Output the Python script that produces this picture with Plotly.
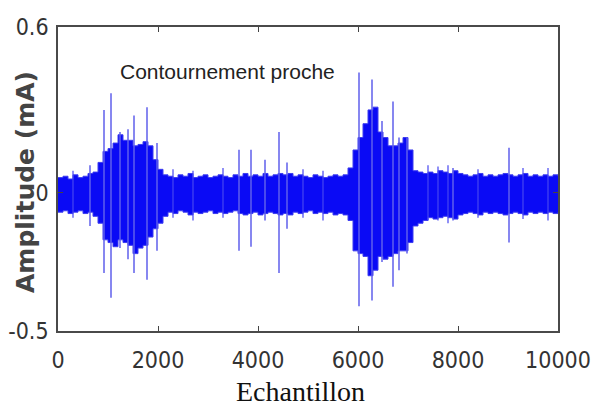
import plotly.graph_objects as go

# Sample index of each envelope point (every 100 samples)
env_samples = list(range(0, 10001, 100))

# Upper and lower edge of the dense signal band (mA)
env_upper = [
    0.055, 0.06, 0.05, 0.065, 0.055, 0.06, 0.07,
    0.075, 0.11, 0.15, 0.16, 0.18, 0.21, 0.19, 0.19, 0.17, 0.175, 0.185, 0.17, 0.12, 0.085, 0.065,
    0.06, 0.055, 0.065, 0.06, 0.07, 0.055, 0.06, 0.065, 0.055, 0.06, 0.065, 0.06, 0.055, 0.065,
    0.06, 0.07, 0.06, 0.065, 0.06, 0.07, 0.06, 0.065, 0.07, 0.065, 0.07, 0.06, 0.065, 0.06,
    0.055, 0.065, 0.06, 0.055, 0.06, 0.065, 0.06, 0.065,
    0.09, 0.155, 0.2, 0.25, 0.3, 0.31, 0.22, 0.2, 0.17, 0.17, 0.18, 0.2, 0.155, 0.08,
    0.075, 0.07, 0.075, 0.07, 0.08, 0.075, 0.07, 0.08, 0.07, 0.065, 0.06, 0.065, 0.07,
    0.06, 0.065, 0.06, 0.065, 0.07, 0.065, 0.06, 0.065, 0.07, 0.06, 0.065, 0.06, 0.065,
    0.06, 0.065, 0.06,
]
env_lower = [
    -0.07, -0.065, -0.075, -0.07, -0.065, -0.075, -0.07,
    -0.085, -0.11, -0.17, -0.18, -0.195, -0.17, -0.18, -0.19, -0.22, -0.2, -0.19, -0.16, -0.13, -0.11, -0.085,
    -0.07, -0.075, -0.065, -0.07, -0.08, -0.07, -0.075, -0.07, -0.065, -0.075, -0.07, -0.075,
    -0.07, -0.065, -0.075, -0.08, -0.075, -0.07, -0.08, -0.075, -0.07, -0.075, -0.08, -0.075,
    -0.08, -0.07, -0.075, -0.07, -0.065, -0.075, -0.07, -0.075, -0.07, -0.08, -0.075, -0.08,
    -0.1, -0.21, -0.22, -0.23, -0.3, -0.28, -0.23, -0.24, -0.23, -0.22, -0.21, -0.21, -0.18, -0.12,
    -0.11, -0.1, -0.09, -0.095, -0.09, -0.085, -0.09, -0.095, -0.08, -0.075, -0.07, -0.075, -0.08,
    -0.07, -0.075, -0.07, -0.075, -0.08, -0.075, -0.07, -0.075, -0.08, -0.07, -0.075, -0.07,
    -0.075, -0.07, -0.075, -0.07,
]

# Isolated spikes: sample index, peak and trough (mA)
spike_samples = [640, 920, 1060, 1240, 1400, 1520, 1780, 1980,
                 3620, 3860, 4140, 4420, 4580,
                 6020, 6280, 6480, 6700, 6820, 6980, 7900, 9020]
spike_top = [0.10, 0.30, 0.36, 0.22, 0.23, 0.28, 0.31, 0.18,
             0.156, 0.156, 0.12, 0.22, 0.11,
             0.435, 0.41, 0.26, 0.33, 0.20, 0.20, 0.09, 0.163]
spike_bottom = [-0.12, -0.29, -0.38, -0.20, -0.24, -0.29, -0.315, -0.21,
                -0.21, -0.195, -0.10, -0.29, -0.13,
                -0.41, -0.39, -0.25, -0.34, -0.28, -0.22, -0.10, -0.18]

# Small hair-like excursions just outside the band
hair_samples = [300, 2300, 2700, 3300, 4900, 5300, 7400, 7600, 7800, 8400, 9300, 9800]
hair_top = [0.08, 0.085, 0.08, 0.09, 0.085, 0.08, 0.10, 0.095, 0.10, 0.085, 0.09, 0.09]
hair_bottom = [-0.09, -0.09, -0.10, -0.09, -0.09, -0.10, -0.10, -0.10, -0.11, -0.09, -0.095, -0.10]

x_ticks = [0, 2000, 4000, 6000, 8000, 10000]
y_ticks = [-0.5, 0, 0.6]
y_tick_text = ["-0.5", "0", "0.6"]

assert len(env_upper) == len(env_samples) == len(env_lower)

band_blue = "rgb(10,10,245)"
spike_blue = "rgb(95,95,235)"

fig = go.Figure()

# Dense band of the signal
fig.add_trace(go.Scatter(x=env_samples, y=env_lower, mode="lines", line_shape="hv",
                         line=dict(color="rgb(60,60,240)", width=1),
                         hoverinfo="skip", showlegend=False))
fig.add_trace(go.Scatter(x=env_samples, y=env_upper, mode="lines", line_shape="hv",
                         line=dict(color="rgb(60,60,240)", width=1),
                         fill="tonexty", fillcolor=band_blue,
                         hoverinfo="skip", showlegend=False))


def strokes(xs, tops, bottoms):
    sx, sy = [], []
    for s, t, b in zip(xs, tops, bottoms):
        sx += [s, s, None]
        sy += [b, t, None]
    return sx, sy


hx, hy = strokes(hair_samples, hair_top, hair_bottom)
fig.add_trace(go.Scatter(x=hx, y=hy, mode="lines",
                         line=dict(color="rgb(70,70,240)", width=1.2),
                         hoverinfo="skip", showlegend=False))

sx, sy = strokes(spike_samples, spike_top, spike_bottom)
fig.add_trace(go.Scatter(x=sx, y=sy, mode="lines",
                         line=dict(color=spike_blue, width=1.5),
                         hoverinfo="skip", showlegend=False))

tick_font = dict(family="DejaVu Sans Condensed, Liberation Sans Narrow, sans-serif",
                 size=23, color="#333")
axis_common = dict(showline=True, linecolor="#4a4a4a", linewidth=1.6, mirror="ticks",
                   ticks="inside", ticklen=5, tickcolor="#444", tickwidth=1.2,
                   showgrid=False, zeroline=False, tickfont=tick_font, automargin=False)

W, H = 600, 410
pl, pr, pt, pb = 58, 42, 27, 79
pw, ph = W - pl - pr, H - pt - pb


def px_to_paper(px, py):
    return (px - pl) / pw, ((H - pb) - py) / ph


xl_x, xl_y = px_to_paper(300, 391)
yl_x, yl_y = px_to_paper(25, 182)

fig.update_layout(
    width=W, height=H,
    margin=dict(l=pl, r=pr, t=pt, b=pb),
    paper_bgcolor="white", plot_bgcolor="white",
    xaxis=dict(range=[0, 10000], tickvals=x_ticks, ticktext=[str(v) for v in x_ticks],
               ticklabelstandoff=8, **axis_common),
    yaxis=dict(range=[-0.5, 0.6], tickvals=y_ticks, ticktext=y_tick_text,
               ticklabelstandoff=3, **axis_common),
    annotations=[
        dict(text="Contournement proche", x=3380, y=0.44, xref="x", yref="y",
             showarrow=False, font=dict(family="Liberation Sans, Arial, sans-serif",
                                        size=21, color="#222")),
        dict(text="Echantillon", x=xl_x, y=xl_y, xref="paper", yref="paper",
             xanchor="center", yanchor="middle",
             showarrow=False, font=dict(family="Liberation Serif, Times New Roman, serif",
                                        size=28, color="#111")),
        dict(text="<b>Amplitude (mA)</b>", x=yl_x, y=yl_y, xref="paper", yref="paper",
             xanchor="center", yanchor="middle",
             showarrow=False, textangle=-90,
             font=dict(family="DejaVu Sans, sans-serif", size=25, color="#444")),
    ],
)

fig.write_html("out.html")
